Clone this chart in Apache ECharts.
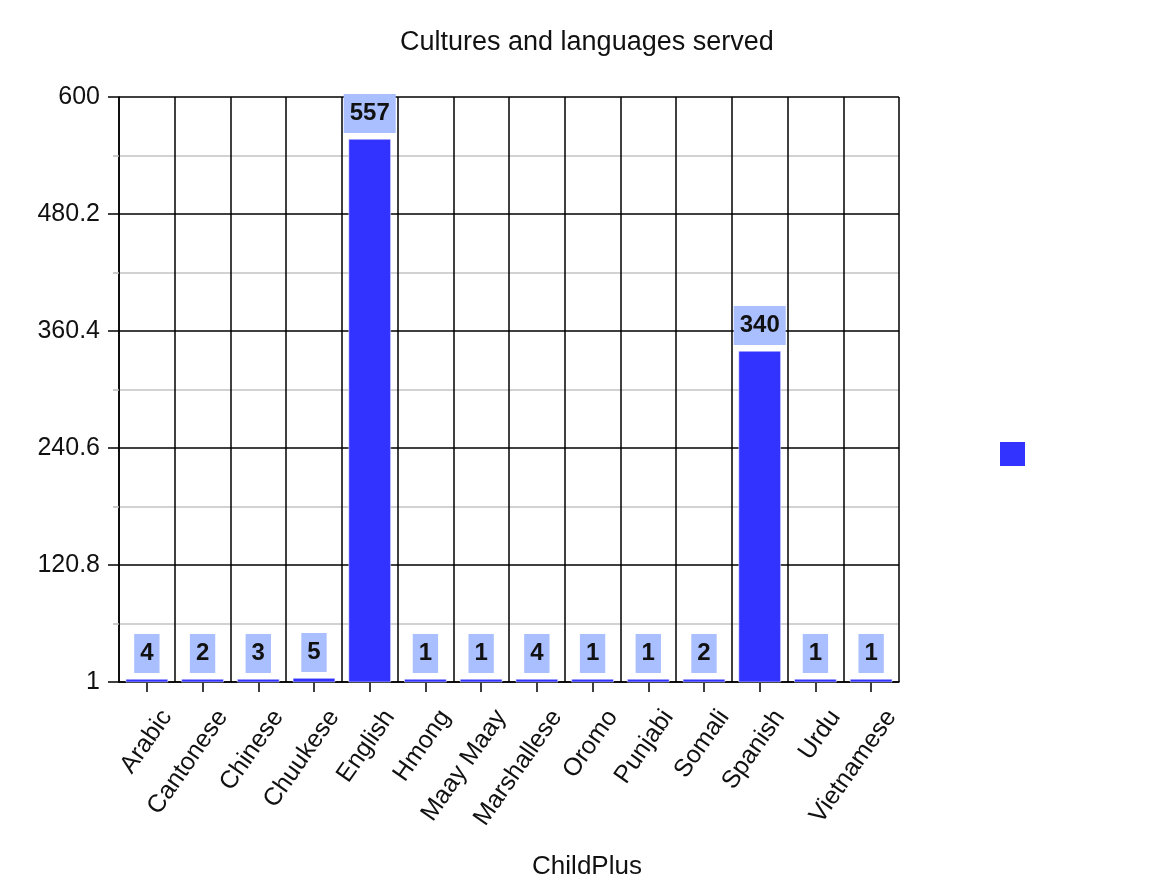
<!DOCTYPE html>
<html>
<head>
<meta charset="utf-8">
<script src="https://cdn.jsdelivr.net/npm/echarts@6/dist/echarts.min.js"></script>
<style>html,body{margin:0;padding:0;background:#fff}#chart{width:1158px;height:888px}</style>
</head>
<body>
<div id="chart"></div>
<script>
const categories = ['Arabic','Cantonese','Chinese','Chuukese','English','Hmong','Maay Maay','Marshallese','Oromo','Punjabi','Somali','Spanish','Urdu','Vietnamese'];
const values = [4, 2, 3, 5, 557, 1, 1, 4, 1, 1, 2, 340, 1, 1];
const yMin = 1, yMax = 600, yInterval = 119.8;
const titleText = 'Cultures and languages served';
const xAxisName = 'ChildPlus';

const FONT = '"Liberation Sans", Arial, sans-serif';
const chart = echarts.init(document.getElementById('chart'));
chart.setOption({
  animation: false,
  backgroundColor: '#fff',
  title: {
    text: titleText,
    left: 400,
    top: 29,
    padding: 0,
    textStyle: { fontFamily: FONT, fontSize: 27, fontWeight: 'normal', color: '#111' }
  },
  legend: {
    left: 998, top: 440, padding: 0,
    icon: 'rect', itemWidth: 27, itemHeight: 26,
    formatter: () => '',
    data: [' ']
  },
  grid: { left: 119, right: 259, top: 97, bottom: 206 },
  xAxis: {
    type: 'category',
    data: categories,
    name: xAxisName,
    nameLocation: 'middle',
    nameGap: 172,
    nameTextStyle: { fontFamily: FONT, fontSize: 26, color: '#111', padding: [0, 0, 0, 156] },
    axisLine: { show: true, lineStyle: { color: '#000', width: 1.5 } },
    axisTick: { show: true, alignWithLabel: true, length: 10, lineStyle: { color: '#000', width: 1.5 } },
    axisLabel: { rotate: 55, fontFamily: FONT, fontSize: 25, color: '#111', margin: 13, interval: 0,
      verticalAlign: 'top', padding: [14, 3, 0, 0] },
    splitLine: { show: true, interval: 0, lineStyle: { color: '#000', width: 1.5 } }
  },
  yAxis: {
    type: 'value',
    min: yMin, max: yMax, interval: yInterval,
    axisLine: { show: true, lineStyle: { color: '#000', width: 1.5 } },
    axisTick: { show: true, length: 11, lineStyle: { color: '#000', width: 1.5 } },
    axisLabel: { fontFamily: FONT, fontSize: 25, color: '#111', margin: 19,
      formatter: v => String(+(+v).toFixed(1)) },
    splitLine: { show: true, lineStyle: { color: '#000', width: 1.5 } },
    minorTick: { show: true, splitNumber: 2, length: 6, lineStyle: { color: '#bbb', width: 1.5 } },
    minorSplitLine: { show: true, lineStyle: { color: '#c4c4c4', width: 1.5 } }
  },
  series: [{
    name: ' ',
    type: 'bar',
    data: values,
    barWidth: '76%',
    barMinHeight: 4,
    itemStyle: { color: '#3333ff', borderColor: '#fff', borderWidth: 0.5 },
    label: {
      show: true,
      position: 'top',
      distance: 6,
      fontFamily: FONT,
      fontSize: 24,
      fontWeight: 'bold',
      color: '#111',
      backgroundColor: '#aabfff',
      padding: [7, 6],
      lineHeight: 25
    }
  }]
});
</script>
</body>
</html>
